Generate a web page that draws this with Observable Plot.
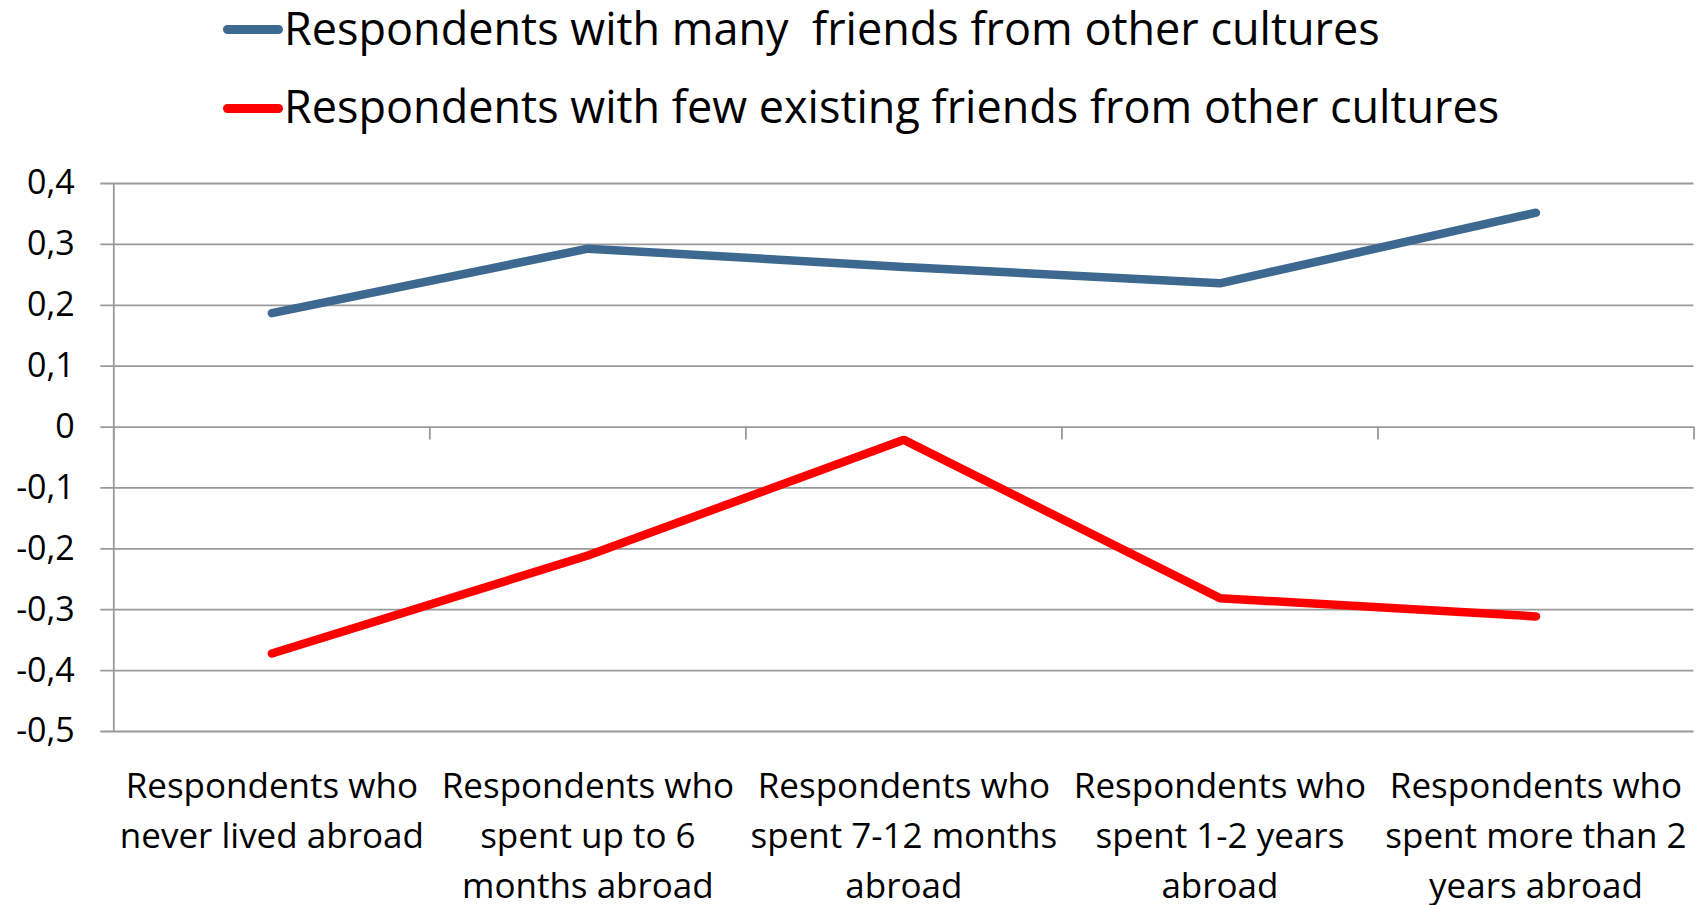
<!DOCTYPE html>
<html>
<head>
<meta charset="utf-8">
<script src="https://cdn.jsdelivr.net/npm/d3@7"></script>
<script src="https://cdn.jsdelivr.net/npm/@observablehq/plot@0.6"></script>
<style>
  html, body { margin: 0; padding: 0; background: #fff; }
  body { width: 1702px; height: 905px; overflow: hidden; font-family: "Open Sans", sans-serif; }
  #legend { position: relative; height: 150px; width: 1702px; }
  .sw { position: absolute; left: 223px; width: 60px; height: 9px; border-radius: 4.5px; }
  .lt { position: absolute; left: 284px; font-size: 45px; line-height: 45px; white-space: pre; color: #000; }
  #chart svg { display: block; }
</style>
</head>
<body>
<div id="legend"></div>
<div id="chart"></div>
<script>
// ---- data ----
const categories = [
  "Respondents who\nnever lived abroad",
  "Respondents who\nspent up to 6\nmonths abroad",
  "Respondents who\nspent 7-12 months\nabroad",
  "Respondents who\nspent 1-2 years\nabroad",
  "Respondents who\nspent more than 2\nyears abroad"
];
const seriesNames = [
  "Respondents with many  friends from other cultures",
  "Respondents with few existing friends from other cultures"
];
const seriesColors = ["#3D6990", "#FF0000"];
const manyFriends = [0.187, 0.293, 0.263, 0.236, 0.352];
const fewFriends = [-0.372, -0.211, -0.021, -0.281, -0.311];
const yTicks = [0.4, 0.3, 0.2, 0.1, 0, -0.1, -0.2, -0.3, -0.4, -0.5];

// ---- table ----
const rows = [];
[manyFriends, fewFriends].forEach((vals, s) => {
  vals.forEach((v, i) => rows.push({ i, value: v, series: seriesNames[s] }));
});
const idx = categories.map((_, i) => i);
const bounds = d3.range(categories.length + 1).map(i => i - 0.5);
const fmt = d => d === 0 ? "0" : d.toFixed(1).replace(".", ",");

// ---- legend ----
const legend = document.getElementById("legend");
const swTop = [24.8, 103.8];
const txTop = [5, 83];
seriesNames.forEach((name, s) => {
  const sw = document.createElement("div");
  sw.className = "sw";
  sw.style.top = swTop[s] + "px";
  sw.style.background = seriesColors[s];
  legend.appendChild(sw);
  const t = document.createElement("div");
  t.className = "lt";
  t.style.top = txTop[s] + "px";
  t.textContent = name;
  legend.appendChild(t);
});

// ---- chart ----
const gridColor = "#9a9a9a";
const chart = Plot.plot({
  width: 1702,
  height: 755,
  marginTop: 33,
  marginBottom: 174,
  marginLeft: 113.3,
  marginRight: 8.5,
  style: { fontFamily: "'Open Sans', sans-serif", background: "#fff", color: "#000" },
  x: { type: "linear", domain: [bounds[0], bounds[bounds.length - 1]], label: null },
  y: { domain: [d3.min(yTicks), d3.max(yTicks)], label: null },
  color: { domain: seriesNames, range: seriesColors },
  marks: [
    Plot.gridY(yTicks, { stroke: gridColor, strokeOpacity: 1, strokeWidth: 1.8, insetLeft: -13 }),
    Plot.ruleX([bounds[0]], { stroke: gridColor, strokeWidth: 1.8 }),
    Plot.ruleX(bounds, { y1: 0, y2: 0, insetBottom: -13, stroke: gridColor, strokeWidth: 1.8 }),
    Plot.axisY(yTicks, { tickSize: 0, tickPadding: 39, tickFormat: fmt, fontSize: 34, fill: "#000", label: null }),
    Plot.axisX(idx, { tickSize: 0, tickPadding: 31, tickFormat: i => categories[i], fontSize: 35, lineHeight: 1.43, fill: "#000", lineAnchor: "top", label: null }),
    Plot.line(rows, { x: "i", y: "value", z: "series", stroke: "series", strokeWidth: 8.5, strokeLinecap: "round", strokeLinejoin: "miter" })
  ]
});
document.getElementById("chart").appendChild(chart);
</script>
</body>
</html>
